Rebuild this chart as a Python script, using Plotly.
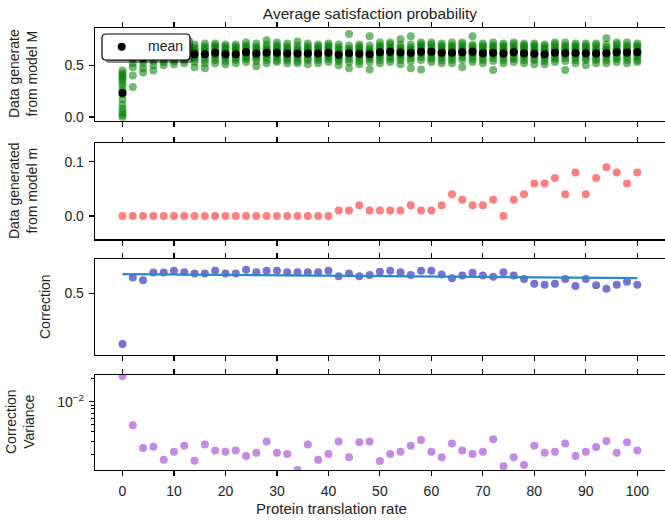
import plotly.graph_objects as go

# ---------------- data ----------------
rate = [0, 2, 4, 6, 8, 10, 12, 14, 16, 18, 20, 22, 24, 26, 28, 30, 32, 34, 36, 38, 40,
        42, 44, 46, 48, 50, 52, 54, 56, 58, 60, 62, 64, 66, 68, 70, 72, 74, 76, 78, 80,
        82, 84, 86, 88, 90, 92, 94, 96, 98, 100]

samples_M = [
    [0.0, 0.02, 0.05, 0.08, 0.12, 0.17, 0.22, 0.26, 0.30, 0.33, 0.36, 0.38, 0.40, 0.42, 0.45],
    [0.29, 0.40, 0.48, 0.52, 0.56, 0.58, 0.60, 0.62, 0.64, 0.66, 0.68],
    [0.43, 0.47, 0.52, 0.55, 0.57, 0.59, 0.61, 0.63, 0.65, 0.67],
    [0.45, 0.50, 0.54, 0.57, 0.59, 0.61, 0.63, 0.65, 0.67, 0.69],
    [0.50, 0.53, 0.56, 0.59, 0.61, 0.62, 0.64, 0.66, 0.68, 0.70],
    [0.51, 0.54, 0.57, 0.59, 0.61, 0.63, 0.65, 0.67, 0.69, 0.71],
    [0.52, 0.55, 0.57, 0.59, 0.61, 0.62, 0.64, 0.66, 0.68, 0.70],
    [0.48, 0.53, 0.56, 0.58, 0.60, 0.62, 0.63, 0.65, 0.67, 0.70],
    [0.47, 0.52, 0.55, 0.58, 0.60, 0.62, 0.64, 0.66, 0.68, 0.71],
    [0.52, 0.55, 0.58, 0.60, 0.61, 0.63, 0.65, 0.67, 0.69, 0.71],
    [0.51, 0.54, 0.57, 0.59, 0.61, 0.62, 0.64, 0.66, 0.68, 0.70],
    [0.52, 0.55, 0.57, 0.59, 0.61, 0.62, 0.64, 0.66, 0.68, 0.70],
    [0.53, 0.56, 0.58, 0.60, 0.62, 0.63, 0.65, 0.67, 0.69, 0.72],
    [0.49, 0.54, 0.57, 0.59, 0.61, 0.62, 0.64, 0.66, 0.68, 0.71],
    [0.52, 0.55, 0.58, 0.60, 0.62, 0.63, 0.65, 0.67, 0.70, 0.74],
    [0.53, 0.55, 0.58, 0.60, 0.61, 0.63, 0.65, 0.67, 0.69, 0.72],
    [0.52, 0.55, 0.57, 0.59, 0.61, 0.62, 0.64, 0.66, 0.68, 0.71],
    [0.52, 0.54, 0.57, 0.59, 0.61, 0.62, 0.64, 0.66, 0.69, 0.73],
    [0.51, 0.55, 0.57, 0.60, 0.61, 0.63, 0.64, 0.66, 0.68, 0.71],
    [0.52, 0.55, 0.57, 0.59, 0.61, 0.62, 0.64, 0.66, 0.68, 0.70],
    [0.53, 0.56, 0.58, 0.60, 0.62, 0.63, 0.65, 0.67, 0.69, 0.71],
    [0.50, 0.54, 0.56, 0.58, 0.60, 0.61, 0.63, 0.65, 0.67, 0.70],
    [0.47, 0.53, 0.56, 0.59, 0.61, 0.62, 0.64, 0.66, 0.69, 0.80],
    [0.51, 0.54, 0.57, 0.59, 0.61, 0.62, 0.64, 0.66, 0.68, 0.70],
    [0.46, 0.53, 0.56, 0.58, 0.60, 0.62, 0.64, 0.66, 0.69, 0.78],
    [0.52, 0.55, 0.58, 0.60, 0.62, 0.63, 0.65, 0.67, 0.69, 0.72],
    [0.53, 0.56, 0.58, 0.61, 0.62, 0.64, 0.65, 0.67, 0.70, 0.72],
    [0.51, 0.55, 0.58, 0.60, 0.62, 0.63, 0.65, 0.67, 0.70, 0.75],
    [0.47, 0.54, 0.57, 0.60, 0.62, 0.63, 0.65, 0.67, 0.70, 0.78],
    [0.46, 0.55, 0.58, 0.61, 0.62, 0.64, 0.66, 0.68, 0.70, 0.72],
    [0.53, 0.56, 0.58, 0.61, 0.62, 0.64, 0.65, 0.67, 0.70, 0.72],
    [0.52, 0.55, 0.58, 0.60, 0.62, 0.63, 0.65, 0.67, 0.69, 0.71],
    [0.52, 0.55, 0.58, 0.60, 0.62, 0.63, 0.65, 0.67, 0.69, 0.72],
    [0.48, 0.55, 0.58, 0.61, 0.62, 0.64, 0.65, 0.67, 0.70, 0.72],
    [0.53, 0.56, 0.59, 0.61, 0.62, 0.64, 0.66, 0.68, 0.70, 0.78],
    [0.52, 0.55, 0.58, 0.60, 0.62, 0.63, 0.65, 0.67, 0.69, 0.71],
    [0.455, 0.54, 0.57, 0.60, 0.62, 0.63, 0.65, 0.67, 0.69, 0.72],
    [0.52, 0.55, 0.58, 0.60, 0.62, 0.63, 0.65, 0.67, 0.69, 0.71],
    [0.53, 0.56, 0.58, 0.61, 0.62, 0.64, 0.65, 0.67, 0.70, 0.72],
    [0.52, 0.55, 0.58, 0.60, 0.61, 0.63, 0.65, 0.67, 0.69, 0.71],
    [0.51, 0.55, 0.57, 0.60, 0.61, 0.63, 0.65, 0.67, 0.69, 0.71],
    [0.51, 0.54, 0.57, 0.59, 0.61, 0.62, 0.64, 0.66, 0.68, 0.70],
    [0.53, 0.56, 0.58, 0.61, 0.62, 0.64, 0.65, 0.67, 0.70, 0.72],
    [0.455, 0.54, 0.57, 0.60, 0.62, 0.63, 0.65, 0.67, 0.69, 0.72],
    [0.52, 0.55, 0.58, 0.60, 0.62, 0.63, 0.65, 0.67, 0.69, 0.71],
    [0.50, 0.55, 0.57, 0.60, 0.61, 0.63, 0.65, 0.67, 0.69, 0.71],
    [0.52, 0.55, 0.57, 0.60, 0.61, 0.63, 0.64, 0.66, 0.69, 0.71],
    [0.52, 0.55, 0.58, 0.60, 0.62, 0.63, 0.65, 0.67, 0.70, 0.76],
    [0.53, 0.56, 0.58, 0.61, 0.62, 0.64, 0.65, 0.67, 0.70, 0.72],
    [0.52, 0.55, 0.58, 0.60, 0.62, 0.63, 0.65, 0.67, 0.69, 0.72],
    [0.53, 0.55, 0.58, 0.60, 0.62, 0.63, 0.65, 0.67, 0.69, 0.71],
]

mean_M = [0.233, 0.584, 0.570, 0.611, 0.611, 0.620, 0.612, 0.605, 0.605, 0.620, 0.605,
          0.605, 0.625, 0.612, 0.620, 0.620, 0.612, 0.612, 0.612, 0.612, 0.620,
          0.601, 0.615, 0.611, 0.607, 0.624, 0.630, 0.622, 0.617, 0.630, 0.630,
          0.620, 0.621, 0.625, 0.629, 0.615, 0.618, 0.612, 0.625, 0.616, 0.611,
          0.606, 0.621, 0.616, 0.619, 0.616, 0.614, 0.615, 0.626, 0.622, 0.626]

model_m = [0.0, 0.0, 0.0, 0.0, 0.0, 0.0, 0.0, 0.0, 0.0, 0.0, 0.0,
           0.0, 0.0, 0.0, 0.0, 0.0, 0.0, 0.0, 0.0, 0.0, 0.0,
           0.01, 0.01, 0.02, 0.01, 0.01, 0.01, 0.01, 0.02, 0.01, 0.01,
           0.02, 0.04, 0.03, 0.02, 0.02, 0.03, 0.0, 0.03, 0.04, 0.06,
           0.06, 0.07, 0.04, 0.08, 0.04, 0.07, 0.09, 0.08, 0.06, 0.08]

correction = [0.233, 0.584, 0.570, 0.611, 0.611, 0.620, 0.612, 0.605, 0.605, 0.620, 0.605,
              0.605, 0.625, 0.612, 0.620, 0.620, 0.612, 0.612, 0.612, 0.612, 0.620,
              0.591, 0.605, 0.591, 0.597, 0.614, 0.620, 0.612, 0.597, 0.620, 0.620,
              0.600, 0.581, 0.595, 0.609, 0.595, 0.588, 0.612, 0.595, 0.576, 0.551,
              0.546, 0.551, 0.576, 0.539, 0.576, 0.544, 0.525, 0.546, 0.562, 0.546]

trend_x = [0, 100]
trend_y = [0.602, 0.581]

variance = [0.0219, 0.00488, 0.00243, 0.00252, 0.00170, 0.00217, 0.00260, 0.00164, 0.00271,
            0.00225, 0.00217, 0.00225, 0.00190, 0.00210, 0.00297, 0.00210, 0.00202, 0.00124,
            0.00271, 0.00170, 0.00202, 0.00297, 0.00183, 0.00289, 0.00297, 0.00163, 0.00202,
            0.00217, 0.00260, 0.00309, 0.00217, 0.00183, 0.00279, 0.00225, 0.00202, 0.00217,
            0.00318, 0.00139, 0.00183, 0.00144, 0.00260, 0.00210, 0.00217, 0.00279, 0.00190,
            0.00217, 0.00251, 0.00300, 0.00210, 0.00289, 0.00225]

x_ticks = [0, 10, 20, 30, 40, 50, 60, 70, 80, 90, 100]

# ---------------- layout geometry (pixels) ----------------
W, H = 665, 521
L, R, T, B = 95, 0, 28, 51
PW, PH = W - L - R, H - T - B

def pxx(px):
    return (px - L) / PW

def pxy(py):
    return (H - B - py) / PH

FONT = "Liberation Sans, Arial, sans-serif"
TXT = "#222222"
fig = go.Figure()

# panel 1: all samples + mean
sx, sy = [], []
for xv, row in zip(rate, samples_M):
    for v in row:
        sx.append(xv)
        sy.append(v)
fig.add_trace(go.Scatter(x=sx, y=sy, mode="markers", xaxis="x", yaxis="y",
                         marker=dict(size=8, color="rgba(0,128,0,0.55)", line=dict(width=0)),
                         showlegend=False, hoverinfo="skip"))
fig.add_trace(go.Scatter(x=rate, y=mean_M, mode="markers", xaxis="x", yaxis="y",
                         name="mean", marker=dict(size=8, color="black", line=dict(width=0)),
                         showlegend=False))
# panel 2
fig.add_trace(go.Scatter(x=rate, y=model_m, mode="markers", xaxis="x2", yaxis="y2",
                         marker=dict(size=8, color="#ff8080", line=dict(width=0)),
                         showlegend=False))
# panel 3
fig.add_trace(go.Scatter(x=rate, y=correction, mode="markers", xaxis="x3", yaxis="y3",
                         marker=dict(size=8, color="#7575cf", line=dict(width=0)),
                         showlegend=False))
fig.add_trace(go.Scatter(x=trend_x, y=trend_y, mode="lines", xaxis="x3", yaxis="y3",
                         line=dict(color="#2f86c8", width=2.2), showlegend=False))
# panel 4
fig.add_trace(go.Scatter(x=rate, y=variance, mode="markers", xaxis="x4", yaxis="y4",
                         marker=dict(size=8, color="#c48be2", line=dict(width=0)),
                         showlegend=False))

XR = [-5.34, 105.38]
def xax(anchor, labels):
    return dict(anchor=anchor, domain=[0, 1], range=XR, tickmode="array", tickvals=x_ticks,
                ticktext=[str(t) for t in x_ticks], showticklabels=labels,
                ticks="outside", ticklen=5, tickwidth=1.2, tickcolor="black",
                ticklabelstandoff=3,
                showline=True, linecolor="black", linewidth=1.3, mirror="ticks",
                showgrid=False, zeroline=False,
                tickfont=dict(family=FONT, size=14, color=TXT))

def yax(anchor, dom, rng, tv, tt, typ="linear"):
    return dict(anchor=anchor, domain=dom, range=rng, type=typ, tickmode="array",
                tickvals=tv, ticktext=tt, ticks="outside", ticklen=5, tickwidth=1.2,
                tickcolor="black", ticklabelstandoff=2,
                showline=True, linecolor="black", linewidth=1.3,
                showgrid=False, zeroline=False,
                tickfont=dict(family=FONT, size=14, color=TXT))

y4 = yax("x4", [0.0, 0.215], [-2.907, -1.646], [0.01], ["10<sup>\u22122</sup>"], typ="log")
y4["minor"] = dict(tickmode="array",
                   tickvals=[0.002, 0.003, 0.004, 0.005, 0.006, 0.007, 0.008, 0.009, 0.02],
                   ticks="outside", ticklen=3, tickwidth=1, tickcolor="black", showgrid=False)

# ---------------- manual legend (rounded box with shadow) ----------------
def rounded_path(x0, y0, x1, y1, r):
    rx, ry = r / PW, r / PH
    a, b = pxx(x0), pxx(x1)
    top, bot = pxy(y0), pxy(y1)
    return (f"M {a+rx},{top} L {b-rx},{top} Q {b},{top} {b},{top-ry} "
            f"L {b},{bot+ry} Q {b},{bot} {b-rx},{bot} L {a+rx},{bot} "
            f"Q {a},{bot} {a},{bot+ry} L {a},{top-ry} Q {a},{top} {a+rx},{top} Z")

leg_box = (102, 34, 190, 60)
shapes = [
    dict(type="path", xref="paper", yref="paper", layer="above",
         path=rounded_path(leg_box[0] + 3, leg_box[1] + 3, leg_box[2] + 3, leg_box[3] + 3, 4),
         fillcolor="rgba(0,0,0,0.45)", line=dict(width=0)),
    dict(type="path", xref="paper", yref="paper", layer="above",
         path=rounded_path(*leg_box, 4),
         fillcolor="white", line=dict(color="black", width=1.2)),
    dict(type="circle", xref="paper", yref="paper", layer="above",
         x0=pxx(121.7 - 4), x1=pxx(121.7 + 4), y0=pxy(46.7 + 4), y1=pxy(46.7 - 4),
         fillcolor="black", line=dict(width=0)),
]

fig.update_layout(
    width=W, height=H,
    margin=dict(l=L, r=R, t=T, b=B),
    paper_bgcolor="white", plot_bgcolor="white",
    font=dict(family=FONT, size=14, color=TXT),
    title=dict(text="Average satisfaction probability", x=pxx(370), xref="paper",
               y=1 - 13.5 / H, yref="container", yanchor="middle", xanchor="center",
               font=dict(family=FONT, size=15.5, color=TXT)),
    xaxis=xax("y", False), xaxis2=xax("y2", False), xaxis3=xax("y3", False),
    xaxis4=xax("y4", True),
    yaxis=yax("x", [0.79, 1.0], [-0.036, 0.859], [0.0, 0.5], ["0.0", "0.5"]),
    yaxis2=yax("x2", [0.522, 0.739], [-0.0429, 0.1339], [0.0, 0.1], ["0.0", "0.1"]),
    yaxis3=yax("x3", [0.26, 0.477], [0.175, 0.681], [0.5], ["0.5"]),
    yaxis4=y4,
    shapes=shapes,
    showlegend=False,
)

fig.add_annotation(text="mean", x=pxx(165.8), y=pxy(46.5), xref="paper", yref="paper",
                   showarrow=False, xanchor="center", yanchor="middle",
                   font=dict(family=FONT, size=14, color=TXT))

ytitles = [
    ("Data generate<br>from model M", 23, 74),
    ("Data generated<br>from model m", 23, 191),
    ("Correction", 45, 307),
    ("Correction<br>Variance", 20, 422),
]
for txt, px, py in ytitles:
    fig.add_annotation(text=txt, x=pxx(px), y=pxy(py),
                       xref="paper", yref="paper", showarrow=False, textangle=-90,
                       xanchor="center", yanchor="middle",
                       font=dict(family=FONT, size=14, color=TXT))

fig.add_annotation(text="Protein translation rate", x=pxx(331), y=pxy(509),
                   xref="paper", yref="paper", showarrow=False, xanchor="center",
                   yanchor="middle", font=dict(family=FONT, size=15, color=TXT))

fig.write_html("out.html",
               config={"displayModeBar": False, "staticPlot": True},
               post_script="document.body.style.margin='0px';document.body.style.overflow='hidden';")
